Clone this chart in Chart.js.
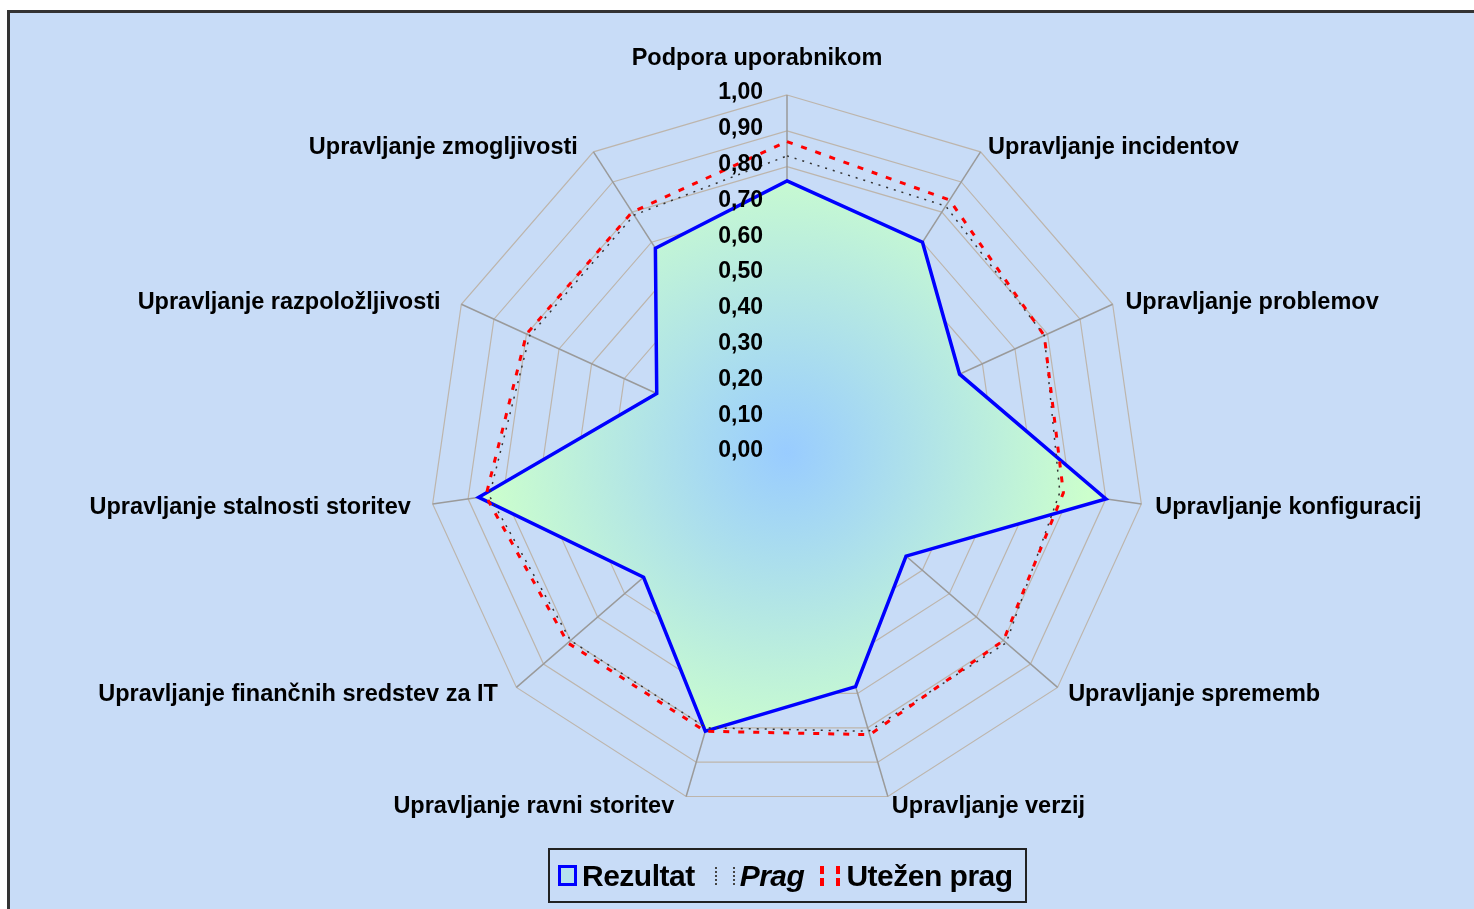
<!DOCTYPE html>
<html>
<head>
<meta charset="utf-8">
<script src="https://cdn.jsdelivr.net/npm/chart.js@4/dist/chart.umd.min.js"></script>
<style>
body { margin:0; background:#fff; width:1474px; height:909px; overflow:hidden; position:relative; font-family:"Liberation Sans", Arial, sans-serif; }
#frame { position:absolute; left:7px; top:10px; width:1480px; height:910px; border:3px solid #333; background:#C8DCF7; box-sizing:border-box; }
#radar { position:absolute; left:0; top:0; }
#legend { position:absolute; left:548px; top:848px; width:479px; height:55px; border:2px solid #222; box-sizing:border-box;
  display:flex; align-items:center; font-weight:bold; font-size:30px; color:#000; letter-spacing:-0.5px; }
#legend span { display:inline-flex; align-items:center; }
.mk { display:inline-block; margin-right:5px; }
</style>
</head>
<body>
<div id="frame"></div>
<canvas id="radar" width="1474" height="909"></canvas>
<div id="legend">
  <span style="margin-left:8px"><i class="mk" style="width:13px;height:15px;border:3px solid #0000FF;background:#B6E2EE"></i>Rezultat</span>
  <span style="margin-left:20px"><i class="mk" style="width:16px;height:18px;border-left:2px dotted #444;border-right:2px dotted #444"></i><em>Prag</em></span>
  <span style="margin-left:16px"><i class="mk" style="width:20px;height:20px;margin-right:6px;border-left:4px dashed #f00;border-right:4px dashed #f00;box-sizing:border-box"></i>Utežen prag</span>
</div>
<script>
// kategorije (v smeri urinega kazalca od vrha)
var categories = [
	'Podpora uporabnikom',
	'Upravljanje incidentov',
	'Upravljanje problemov',
	'Upravljanje konfiguracij',
	'Upravljanje sprememb',
	'Upravljanje verzij',
	'Upravljanje ravni storitev',
	'Upravljanje finančnih sredstev za IT',
	'Upravljanje stalnosti storitev',
	'Upravljanje razpoložljivosti',
	'Upravljanje zmogljivosti'
];
var rezultat   = [0.76, 0.70, 0.53, 0.90, 0.44, 0.68, 0.81, 0.53, 0.87, 0.40, 0.68];
var prag       = [0.83, 0.82, 0.79, 0.77, 0.81, 0.81, 0.80, 0.80, 0.84, 0.79, 0.79];
var utezenPrag = [0.87, 0.84, 0.79, 0.78, 0.80, 0.82, 0.81, 0.81, 0.85, 0.80, 0.80];
var tickValues = [0, 0.1, 0.2, 0.3, 0.4, 0.5, 0.6, 0.7, 0.8, 0.9, 1.0];

var labelFont = 'bold 23.5px "Liberation Sans", Arial, sans-serif';

const fillGradient = (context) => {
	const chart = context.chart;
	const s = chart.scales.r;
	if (!s || !s.drawingArea) return 'rgba(153,204,255,1)';
	const g = chart.ctx.createRadialGradient(s.xCenter, s.yCenter, 0, s.xCenter, s.yCenter, s.drawingArea * 0.85);
	g.addColorStop(0, '#99CCFF');
	g.addColorStop(1, '#CCFFCC');
	return g;
};

// oznake osi levo od navpične osi + imena kategorij (kot v Excelu)
const axisText = {
	id: 'axisText',
	afterDraw(chart) {
		const s = chart.scales.r;
		const ctx = chart.ctx;
		ctx.save();
		ctx.font = 'bold 23px "Liberation Sans", Arial, sans-serif';
		ctx.fillStyle = '#000';
		ctx.textAlign = 'right';
		ctx.textBaseline = 'middle';
		tickValues.forEach((v) => {
			const y = s.yCenter - s.getDistanceFromCenterForValue(v);
			ctx.fillText(v.toFixed(2).replace('.', ','), s.xCenter - 24, y - 2);
		});

		ctx.font = labelFont;
		categories.forEach((name, i) => {
			const p = s.getPointPosition(i, s.drawingArea);
			const a = s.getIndexAngle(i);
			const sn = Math.sin(a), cs = Math.cos(a);
			if (Math.abs(sn) < 0.1) {
				ctx.textAlign = 'center';
				ctx.textBaseline = 'bottom';
				ctx.fillText(name, p.x - 30, p.y - 25);
				return;
			}
			const y = p.y - 8 * cs + 2;
			if (sn > 0) {
				ctx.textAlign = 'left';
				ctx.textBaseline = 'middle';
				ctx.fillText(name, p.x + 14 * sn, y);
			} else {
				ctx.textAlign = 'right';
				ctx.textBaseline = 'middle';
				ctx.fillText(name, p.x + 14 * sn - 8, y);
			}
		});
		ctx.restore();
	}
};

var ctx1 = document.getElementById('radar').getContext('2d');
var radarChart = new Chart(ctx1, {
	type: 'radar',
	data: {
		labels: categories,
		datasets: [{
			label: 'Rezultat',
			data: rezultat,
			borderColor: '#0000FF',
			borderWidth: 3.5,
			backgroundColor: fillGradient,
			fill: true,
			pointRadius: 0,
			order: 3
		}, {
			label: 'Prag',
			data: prag,
			borderColor: '#333333',
			borderWidth: 1.5,
			borderDash: [2, 6],
			fill: false,
			pointRadius: 0,
			order: 2
		}, {
			label: 'Utežen prag',
			data: utezenPrag,
			borderColor: '#FF0000',
			borderWidth: 3,
			borderDash: [6, 9],
			fill: false,
			pointRadius: 0,
			order: 1
		}]
	},
	plugins: [axisText],
	options: {
		responsive: false,
		animation: false,
		layout: { padding: { top: 95, bottom: 98, left: 429, right: 329 } },
		plugins: { legend: { display: false }, tooltip: { enabled: false } },
		scales: {
			r: {
				min: 0,
				max: 1,
				ticks: { stepSize: 0.1, display: false },
				grid: { color: '#BDB5AC', lineWidth: 1.2 },
				angleLines: { color: '#9A9A9A', lineWidth: 1.5 },
				pointLabels: { display: false }
			}
		}
	}
});
</script>
</body>
</html>
